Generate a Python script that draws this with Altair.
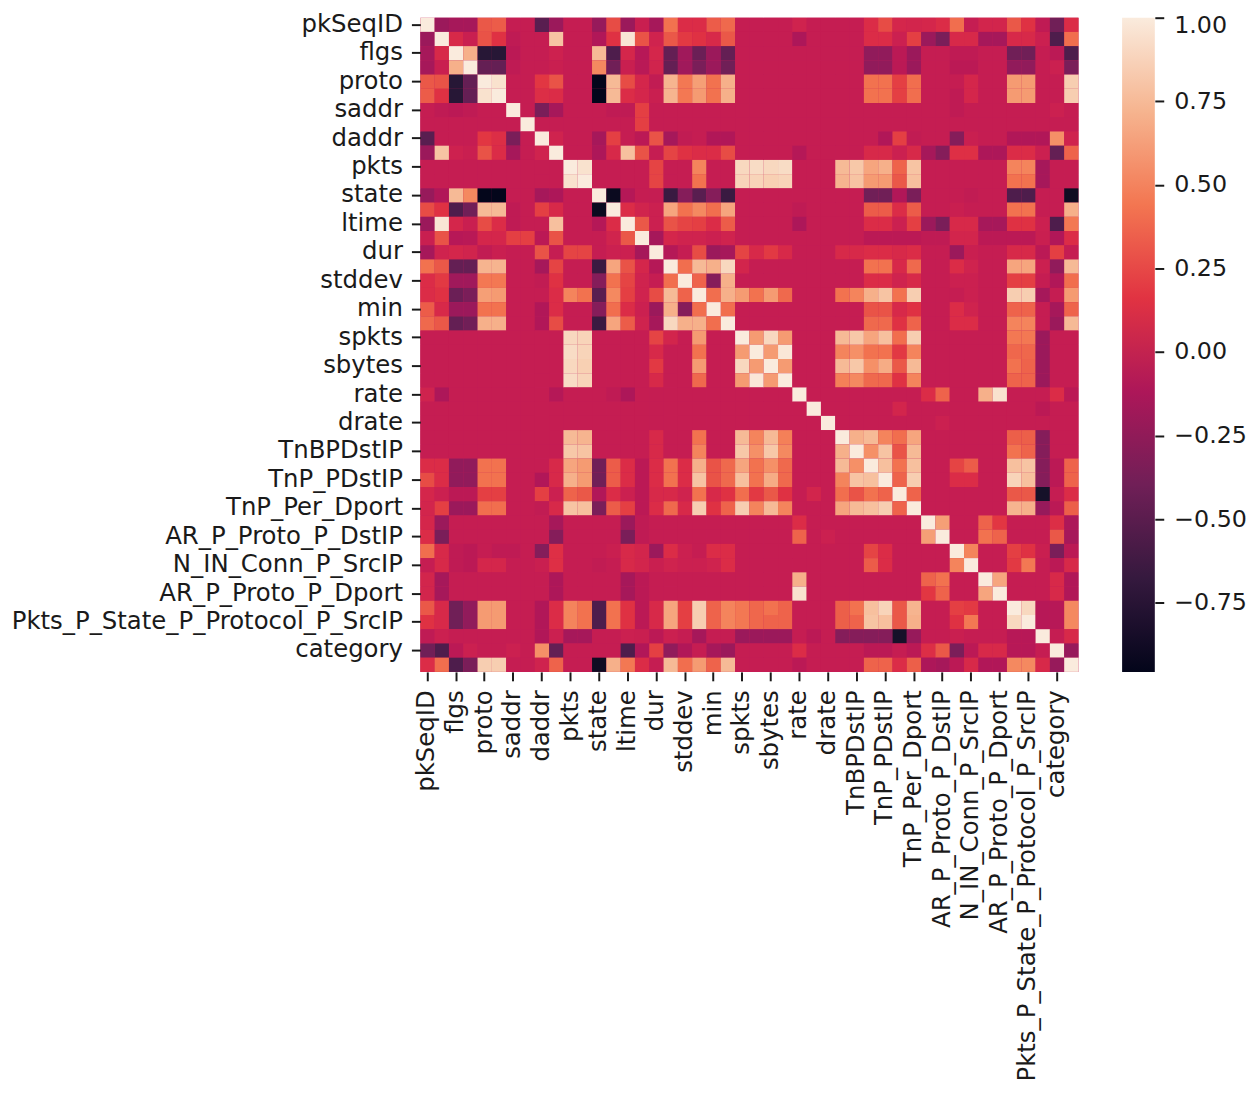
import altair as alt
import pandas as pd

features = ["pkSeqID","stime","flgs","flgs_number","proto","proto_number","saddr","sport","daddr","dport",
            "pkts","bytes","state","state_number","ltime","seq","dur","mean","stddev","sum","min","max",
            "spkts","dpkts","sbytes","dbytes","rate","srate","drate","TnBPSrcIP","TnBPDstIP","TnP_PSrcIP",
            "TnP_PDstIP","TnP_PerProto","TnP_Per_Dport","AR_P_Proto_P_SrcIP","AR_P_Proto_P_DstIP",
            "N_IN_Conn_P_DstIP","N_IN_Conn_P_SrcIP","AR_P_Proto_P_Sport","AR_P_Proto_P_Dport",
            "Pkts_P_State_P_Protocol_P_DestIP","Pkts_P_State_P_Protocol_P_SrcIP","attack","category","subcategory"]
tick_labels = features[::2]

# Upper triangle of the correlation matrix (values right of the diagonal)
r00 = [-.2,-.15,-.15,.3,.32,0,0,-.5,-.2,0,0,-.22,.25,-.2,.02,-.15,.42,.12,.12,.32,.38,0, 0,0,0,.05,0,0,0,0,.12,.25,.08,.07,.08,.12,.4,0,.07,.07,.3,.15,-.03,-.4,.12]
r01 = [.1,.02,.28,.15,-.03,0,0,.8,0,0,-.1,.15,.97,.28,.05,.3,.18,.15,.1,.3,0, 0,0,0,-.12,0,0,0,0,.12,.12,.03,.2,-.2,-.35,.1,.1,-.15,-.15,.1,.1,.03,-.55,.4]
r02 = [.7,-.75,-.75,-.05,0,0,.04,0,0,.75,-.55,.08,-.07,.08,-.45,-.18,-.42,-.2,-.45,0, 0,0,0,0,0,0,0,0,-.25,-.25,-.05,-.2,0,0,-.03,-.03,0,0,-.4,-.4,0,-.05,-.55]
r03 = [-.45,-.45,-.03,0,0,.02,0,0,.52,-.4,.02,-.06,.06,-.45,-.18,-.35,-.2,-.4,0, 0,0,0,0,0,0,0,0,-.25,-.25,-.05,-.2,0,0,-.05,-.05,0,0,-.25,-.25,0,.03,-.35]
r04 = [.95,0,0,.17,.28,0,0,-.95,.75,.25,.08,-.02,.72,.45,.62,.42,.7,0, 0,0,0,0,0,0,0,0,.42,.42,.2,.4,0,0,0,.08,0,0,.6,.6,0,0,.85]
r05 = [0,0,.13,.12,0,0,-.95,.75,.12,.08,.02,.72,.45,.6,.42,.7,0, 0,0,0,0,0,0,0,0,.42,.42,.2,.4,0,0,-.03,.08,0,0,.6,.6,0,0,.85]
r06 = [0,-.35,-.15,0,0,0,-.03,-.03,.2,0,0,0,0,0,0,0, 0,0,0,0,0,0,0,0,0,0,0,0,0,0,-.03,0,0,0,0,0,0,.03,0]
r07 = [0,0,0,0,0,0,0,.2,0,0,0,0,0,0,0, 0,0,0,0,0,0,0,0,0,0,0,0,0,0,0,0,0,0,0,0,0,0,0]
r08 = [.05,0,0,-.15,.2,0,-.05,.28,-.15,-.02,0,-.1,-.1,0, 0,0,0,0,0,0,0,0,0,-.1,.2,-.02,0,0,-.3,.02,0,0,-.1,-.1,-.1,.55,.05]
r09 = [0,0,-.12,.1,.78,.28,0,.22,.15,.12,.12,.25,0, 0,0,0,-.08,0,0,0,0,.1,.1,.03,.1,-.15,-.3,.14,.14,-.12,-.12,.12,.12,.03,-.45,.35]
r10 = [.95,0,0,0,0,.22,0,0,.5,0,0,.9, .92,.9,.92,0,0,0,.75,.82,.65,.7,.35,.8,0,0,0,0,0,0,.5,.5,-.15,0,0]
r11 = [0,0,0,0,.22,0,0,.42,0,0,.88, .88,.86,.88,0,0,0,.72,.8,.6,.6,.3,.78,0,0,0,0,0,0,.42,.42,-.15,0,0]
r12 = [-.92,-.08,0,0,-.65,-.3,-.5,-.3,-.65,0, 0,0,0,0,0,0,0,0,-.4,-.4,-.1,-.35,0,0,0,-.02,0,0,-.55,-.55,0,0,-.9]
r13 = [.12,.06,.03,.65,.42,.52,.4,.65,0, 0,0,0,-.03,0,0,0,0,.32,.32,.12,.32,0,0,.02,0,0,0,.42,.42,0,0,.7]
r14 = [.3,.03,.28,.22,.2,.12,.32,0, 0,0,0,-.12,0,0,0,0,.12,.12,.03,.2,-.2,-.35,.1,.1,-.15,-.15,.15,.15,.03,-.55,.45]
r15 = [-.15,.08,.05,.05,.03,.05,0, 0,0,0,0,0,0,0,0,-.05,-.05,-.05,-.05,-.03,-.03,.07,.07,-.05,-.05,-.05,-.05,.02,-.1,.12]
r16 = [-.08,0,.25,-.2,-.15,.22, .1,.18,.1,0,0,0,.1,.1,.12,.12,.1,.12,0,0,-.2,.02,0,0,.1,.1,-.05,.2,0]
r17 = [.4,.75,.7,.9,.07, 0,0,0,0,0,0,0,0,.42,.42,.1,.38,0,0,.12,.05,0,0,.65,.65,.03,-.25,.75]
r18 = [.35,-.3,.7,0, 0,0,0,0,0,0,0,0,.12,.12,.05,.1,0,0,.03,.03,0,0,.2,.2,0,-.1,.4]
r19 = [.4,.7,.6, .42,.6,.38,0,0,0,.42,.5,.7,.8,.42,.85,0,0,0,.03,0,0,.85,.85,-.15,0,.6]
r20 = [.4,0, 0,0,0,0,0,0,0,0,.28,.28,.1,.15,0,0,.12,.05,0,0,.35,.35,0,-.15,.35]
r21 = [0, 0,0,0,0,0,0,0,0,.38,.38,.15,.35,0,0,.12,.12,0,0,.5,.5,0,-.2,.75]
r22 = [.6,.9,.6,0,0,0,.75,.82,.65,.78,.4,.85,0,0,0,0,0,0,.45,.45,-.2,0,0]
r23 = [.6,.98,0,0,0,.5,.55,.42,.42,.18,.5,0,0,0,0,0,0,.37,.37,-.2,0,0]
r24 = [.6,0,0,0,.75,.82,.55,.68,.3,.75,0,0,0,0,0,0,.42,.35,-.2,0,0]
r25 = [0,0,0,.48,.52,.38,.38,.15,.5,0,0,0,0,0,0,.35,.35,-.2,0,0]
r26 = [0,0,0,0,0,0,0,0,.12,.35,0,0,.7,.95,0,0,0,.12,-.05]
r27 = [0,0,0,0,0,.07,0,0,0,0,0,0,0,0,0,-.05,0,0]
r28 = [0,0,0,0,0,0,0,.03,0,0,0,0,0,0,0,0,0]
r29 = [.7,.75,.5,.4,.65,0,0,0,0,0,0,.33,.33,-.3,0,0]
r30 = [.55,.8,.28,.75,0,0,0,0,0,0,.42,.35,-.3,0,0]
r31 = [.78,.42,.78,0,0,.22,.32,0,0,.78,.8,-.3,-.05,.35]
r32 = [.35,.85,0,0,.12,.12,0,0,.88,.78,-.3,-.05,.35]
r33 = [.35,0,0,0,0,0,0,.3,.3,-.85,0,.12]
r34 = [0,0,0,0,0,0,.72,.7,-.22,-.05,.33]
r35 = [.62,0,0,.35,.17,0,0,0,.13,-.12]
r36 = [0,0,.42,.35,0,0,0,.3,-.15]
r37 = [.5,0,0,.2,.15,.02,-.35,-.05]
r38 = [0,0,.18,.45,0,-.05,.1]
r39 = [.65,0,0,0,.1,-.1]
r40 = [0,0,0,.1,-.1]
r41 = [.9,-.07,-.07,.52]
r42 = [-.07,-.07,.52]
r43 = [0,.1]
r44 = [-.22]
r45 = []
upper = [r00,r01,r02,r03,r04,r05,r06,r07,r08,r09,r10,r11,r12,r13,r14,r15,r16,r17,r18,r19,r20,r21,r22,r23,
         r24,r25,r26,r27,r28,r29,r30,r31,r32,r33,r34,r35,r36,r37,r38,r39,r40,r41,r42,r43,r44,r45]

# colour scale (rocket)
vmin, vmax = -0.957, 1.0
rocket = ["#03051a","#35193e","#701f57","#ad1759","#e13342","#f37651","#f6b48f","#faebdd"]
offsets = [i / 7 for i in range(8)]
stops_v = [vmin + o * (vmax - vmin) for o in offsets]
bar_ticks = [1.0, 0.75, 0.5, 0.25, 0.0, -0.25, -0.5, -0.75]

FONT = "DejaVu Sans"
FS = 24.6
BAR_FS = 24
INK = "#1a1a1a"
CRIMSON = "#c3205a"
PLOT_H = 660

records = []
for i, row in enumerate(upper):
    assert len(row) == 45 - i, (i, len(row))
    records.append({"row": features[i], "col": features[i], "corr": 1.0})
    for k, v in enumerate(row):
        j = i + 1 + k
        records.append({"row": features[i], "col": features[j], "corr": v})
        records.append({"row": features[j], "col": features[i], "corr": v})
df = pd.DataFrame(records)

common = dict(labelFont=FONT, labelColor=INK, tickColor=INK, tickWidth=2, tickSize=9,
              domain=False, grid=False, title=None, labelOverlap=False, labelLimit=600)

heat = alt.Chart(df).mark_rect().encode(
    x=alt.X("col:N", sort=features, scale=alt.Scale(domain=features, paddingInner=0, paddingOuter=0),
            axis=alt.Axis(values=tick_labels, labelAngle=270, labelAlign="right", labelBaseline="middle",
                          labelPadding=9, labelFontSize=FS, **common)),
    y=alt.Y("row:N", sort=features, scale=alt.Scale(domain=features, paddingInner=0, paddingOuter=0),
            axis=alt.Axis(values=tick_labels, labelPadding=9, labelFontSize=FS, **common)),
    color=alt.Color("corr:Q", scale=alt.Scale(domain=stops_v, range=rocket, clamp=True), legend=None),
).properties(width=664, height=PLOT_H, view=alt.ViewBackground(fill=CRIMSON, stroke=None))

bar_df = pd.DataFrame({"low": [vmin], "high": [vmax]})
gradient = alt.LinearGradient(gradient="linear",
                              stops=[alt.GradientStop(offset=o, color=c) for o, c in zip(offsets, rocket)],
                              x1=0, x2=0, y1=1, y2=0)
bar = alt.Chart(bar_df).mark_rect(fill=gradient).encode(
    x=alt.value(0), x2=alt.value(33),
    y=alt.Y("low:Q", scale=alt.Scale(domain=[vmin, vmax], nice=False, zero=False),
            axis=alt.Axis(orient="right", values=bar_ticks, format=".2f", labelPadding=10, labelFontSize=BAR_FS,
                          labelFlush=True, labelFlushOffset=4, **common)),
    y2="high:Q",
).properties(width=33, height=PLOT_H, view=alt.ViewBackground(stroke=None))

chart = alt.hconcat(heat, bar, spacing=44).properties(padding={"left": 3, "top": -2, "right": 0, "bottom": 0})
chart.save("out.html", embed_options={"renderer": "svg", "actions": False})
